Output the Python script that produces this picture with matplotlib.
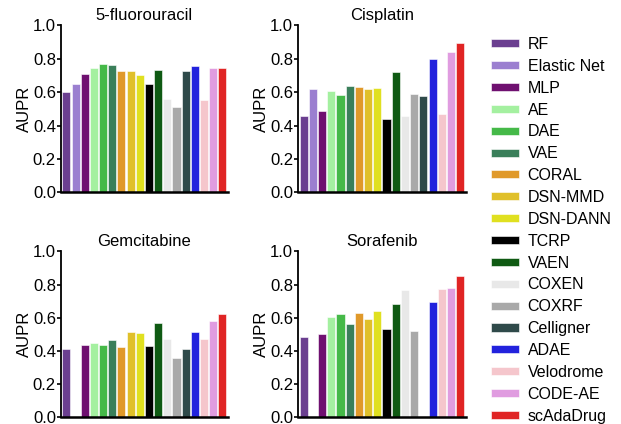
import numpy as np
import matplotlib
matplotlib.use("Agg")
import matplotlib.pyplot as plt
from matplotlib.patches import Patch

#-------------------------------------------- Data --------------------------------------------#

methods = ['RF', 'Elastic Net', 'MLP', 'AE', 'DAE', 'VAE', 'CORAL', 'DSN-MMD', 'DSN-DANN',
           'TCRP', 'VAEN', 'COXEN', 'COXRF', 'Celligner', 'ADAE', 'Velodrome', 'CODE-AE',
           'scAdaDrug']
colors = ['#6b3f90', '#9b7fd0', '#6f1070', '#a4f0a0', '#45b948', '#3a7f5a', '#e0992a',
          '#e0c02a', '#e0e020', '#000000', '#0f5a13', '#e8e8e8', '#a9a9a9', '#2f4a4a',
          '#2222dd', '#f5c6cc', '#e09ce0', '#e02424']

drugs = ['5-fluorouracil', 'Cisplatin', 'Gemcitabine', 'Sorafenib']

# nan = method not evaluated on that drug
fluorouracil = [0.602, 0.651, 0.710, 0.745, 0.767, 0.763, 0.727, 0.727, 0.704,
                0.647, 0.731, 0.561, 0.510, 0.729, 0.755, 0.555, 0.747, 0.743]
cisplatin = [0.457, 0.620, 0.488, 0.608, 0.584, 0.639, 0.629, 0.620, 0.627,
             0.441, 0.724, 0.457, 0.588, 0.578, 0.798, 0.469, 0.841, 0.892]
gemcitabine = [0.409, np.nan, 0.433, 0.450, 0.435, 0.468, 0.423, 0.517, 0.511,
               0.431, 0.569, 0.472, 0.359, 0.409, 0.513, 0.472, 0.579, 0.620]
sorafenib = [0.483, np.nan, 0.503, 0.606, 0.622, 0.561, 0.630, 0.593, 0.640,
             0.532, 0.682, 0.766, 0.520, np.nan, 0.696, 0.772, 0.782, 0.852]

scores = [fluorouracil, cisplatin, gemcitabine, sorafenib]

#-------------------------------------------- Plot --------------------------------------------#

plt.rcParams['font.family'] = ['Liberation Sans', 'DejaVu Sans']

fig = plt.figure(figsize=(6.21, 4.24), dpi=100)
positions = [[0.098, 0.546, 0.269, 0.394],
             [0.480, 0.546, 0.270, 0.394],
             [0.098, 0.016, 0.269, 0.391],
             [0.480, 0.016, 0.270, 0.391]]

x = np.arange(len(methods))
for pos, drug, vals in zip(positions, drugs, scores):
    ax = fig.add_axes(pos)
    ax.bar(x, np.nan_to_num(vals), width=0.88, color=colors, edgecolor='white', linewidth=0.4)
    ax.set_xlim(-0.6, len(methods) - 0.4)
    ax.set_ylim(0, 1.0)
    ax.set_yticks([0.0, 0.2, 0.4, 0.6, 0.8, 1.0])
    ax.set_yticklabels(['0.0', '0.2', '0.4', '0.6', '0.8', '1.0'])
    ax.set_xticks([])
    ax.set_title(drug, fontsize=12, pad=4)
    ax.set_ylabel('AUPR', fontsize=12, labelpad=1)
    ax.tick_params(axis='y', labelsize=12, length=3, width=1.2, pad=0.5)
    for s in ['top', 'right']:
        ax.spines[s].set_visible(False)
    ax.spines['left'].set_linewidth(1.3)
    ax.spines['bottom'].set_linewidth(1.8)

handles = [Patch(facecolor=c, edgecolor='white', linewidth=0.4, label=m)
           for m, c in zip(methods, colors)]
fig.legend(handles=handles, loc='upper left', bbox_to_anchor=(0.78, 0.928), frameon=False,
           fontsize=11.5, handlelength=1.75, handleheight=0.4, labelspacing=0.43,
           handletextpad=0.55, borderaxespad=0)

plt.savefig('out.png', dpi=100)
